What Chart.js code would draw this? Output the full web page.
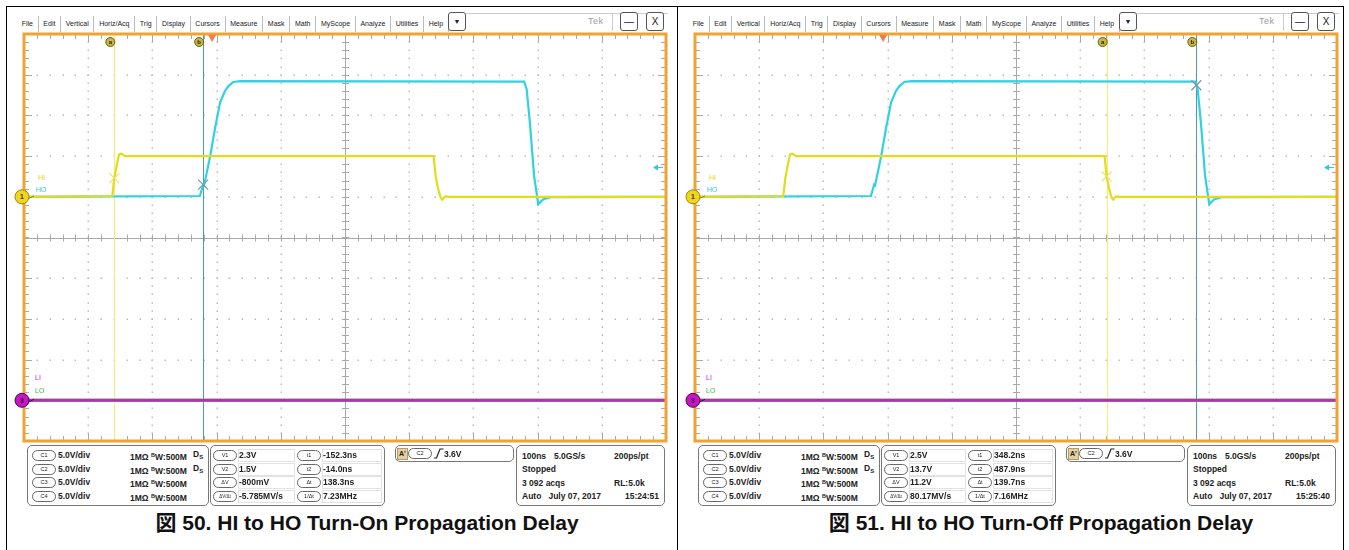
<!DOCTYPE html>
<html>
<head>
<meta charset="utf-8">
<script src="https://cdn.jsdelivr.net/npm/chart.js@4.4.1/dist/chart.umd.min.js"></script>
<style>
body { margin: 0; width: 1349px; height: 550px; background: #fff; position: relative; overflow: hidden;
       font-family: "Liberation Sans", Arial, "Noto Sans CJK JP", sans-serif; }
.frame { position: absolute; left: 6px; top: 6px; width: 1336px; height: 570px; border: 1px solid #000; }
.divider { position: absolute; left: 677px; top: 6px; width: 1px; height: 560px; background: #000; }
.panel { position: absolute; top: 0; width: 671px; height: 550px; }
.menu { position: absolute; left: 11px; top: 16px; height: 16px; display: flex; font-size: 7px; color: #222; }
.menu span { padding: 0 4.7px; border-right: 1px solid #bbb; line-height: 16px; white-space: nowrap; }
.btn { position: absolute; top: 12px; height: 17px; border: 1px solid #555; border-radius: 3px; background: #fff;
       font-size: 10px; text-align: center; line-height: 17px; color: #222; }
.topline { position: absolute; left: 460px; top: 13px; width: 202px; height: 1px; background: #ccc; }
.tek { position: absolute; left: 582px; top: 16px; font-size: 9px; color: #9a9a9a; letter-spacing: 0.5px; }
.vsep { position: absolute; left: 606px; top: 13px; width: 1px; height: 18px; background: #ccc; }
canvas { position: absolute; left: 4px; top: 28px; }
.box { position: absolute; border: 1px solid #777; border-radius: 5px; background: #fff; }
.t { position: absolute; font-size: 8.5px; font-weight: bold; color: #222; white-space: nowrap; line-height: 10px; }
.pill { position: absolute; width: 22px; height: 9px; border: 1px solid #666; border-radius: 6px; font-size: 5.5px;
        text-align: center; line-height: 9px; color: #222; background: #fff; }
.cell { position: absolute; height: 11px; border: 1px solid #e2e2e2; }
.caption { position: absolute; top: 511px; font-size: 21px; font-weight: bold; color: #111; white-space: nowrap;
           transform: translateX(-50%); line-height: 24px; }
.bw { font-size: 5.5px; vertical-align: 3px; }
.ds { font-size: 6px; vertical-align: -2px; }
</style>
</head>
<body>
<div class="frame"></div>
<div class="divider"></div>
<div id="panel0" class="panel" style="left:6px"></div>
<div id="panel1" class="panel" style="left:677px"></div>

<script>
// time axis: ns at the left / right screen edge, trigger point at 0
const timeAxis = [-293, 707];
const nsPerDiv = 100;
const voltsPerDiv = 5;

// HI (C1, yellow) input, volts
const hiTime  = [-293, -155.5, -152.3, -148.5, -145, -141, -136, 345, 348.2, 352, 355.5, 358.5, 363, 370, 707];
const hiVolts = [0, 0.1, 2.3, 3.9, 5.2, 5.3, 5.0, 5.0, 2.5, 1.0, 0.0, -0.35, 0.05, 0, 0];

// HO (C2, cyan) output, volts
const hoTime  = [-293, -19, -14, -12.5, -3, 5, 12.5, 20, 25.5, 33, 44, 486, 488, 490, 495, 501.5, 508, 516, 527, 707];
const hoVolts = [0, 0.1, 1.5, 1.4, 5.0, 8.6, 11.6, 13.0, 13.6, 14.1, 14.2, 14.15, 13.7, 13.2, 9.1, 2.6, -0.9, -0.3, -0.05, 0];

// LI (C3, magenta) and LO (C4, green) stay at ground
const liTime  = [-293, 707];
const liVolts = [0, 0];
const loTime  = [-293, 707];
const loVolts = [0, 0];

// channel ground offsets on screen, in divisions
const groundDiv = [1, 1, -4, -4];

// cursor readouts per figure
const cursorT1 = [-152.3, 348.2];
const cursorT2 = [-14.0, 487.9];
const cursorV1 = [2.3, 2.5];
const cursorV2 = [1.5, 13.7];
const readVolts = [['2.3V', '1.5V', '-800mV', '-5.785MV/s'], ['2.5V', '13.7V', '11.2V', '80.17MV/s']];
const readTimes = [['-152.3ns', '-14.0ns', '138.3ns', '7.23MHz'], ['348.2ns', '487.9ns', '139.7ns', '7.16MHz']];
const voltLabels = ['V1', 'V2', 'ΔV', 'ΔV/Δt'];
const timeLabels = ['t1', 't2', 'Δt', '1/Δt'];
const clockTimes = ['15:24:51', '15:25:40'];
const captions = ['図 50. HI to HO Turn-On Propagation Delay', '図 51. HI to HO Turn-Off Propagation Delay'];
const captionCenter = [361, 364];
const triggerLevel = 3.6;
const menuItems = ['File', 'Edit', 'Vertical', 'Horiz/Acq', 'Trig', 'Display', 'Cursors', 'Measure', 'Mask', 'Math',
                   'MyScope', 'Analyze', 'Utilities', 'Help'];
const channels = ['C1', 'C2', 'C3', 'C4'];

function toPoints(times, volts, ch) {
    return times.map((t, i) => ({ x: t, y: volts[i] / voltsPerDiv + groundDiv[ch] }));
}

function buildPanel(p) {
    const el = document.getElementById('panel' + p);
    let html = '<div class="menu">' + menuItems.map(m => `<span>${m}</span>`).join('') + '</div>';
    html += '<div class="topline"></div><div class="vsep"></div><div class="tek">Tek</div>';
    html += '<div class="btn" style="left:442px;width:16px;font-size:7px">&#9660;</div>';
    html += '<div class="btn" style="left:614px;width:16px;">&#8212;</div>';
    html += '<div class="btn" style="left:640px;width:16px;">X</div>';
    html += `<canvas id="scope${p}" width="660" height="419"></canvas>`;

    // channel box
    html += '<div class="box" style="left:21px;top:445px;width:180px;height:59px">';
    channels.forEach((c, i) => {
        const y = 4 + i * 13.7;
        html += `<div class="pill" style="left:4px;top:${y}px">${c}</div>`;
        html += `<div class="t" style="left:30px;top:${y}px">5.0V/div</div>`;
        html += `<div class="t" style="left:102px;top:${y}px">1MΩ <span class="bw">B</span>W:500M</div>`;
        if (i < 2) html += `<div class="t" style="left:165px;top:${y - 1}px">D<span class="ds">S</span></div>`;
    });
    html += '</div>';

    // cursor box
    html += '<div class="box" style="left:204px;top:445px;width:173px;height:59px">';
    for (let i = 0; i < 4; i++) {
        const y = 3 + i * 13.7;
        html += `<div class="cell" style="left:27px;top:${y}px;width:55px"></div>`;
        html += `<div class="cell" style="left:111px;top:${y}px;width:58px"></div>`;
        html += `<div class="pill" style="left:2px;top:${y + 1}px;${i === 3 ? 'font-size:4.5px' : ''}">${voltLabels[i]}</div>`;
        html += `<div class="t" style="left:28px;top:${y + 1}px">${readVolts[p][i]}</div>`;
        html += `<div class="pill" style="left:86px;top:${y + 1}px">${timeLabels[i]}</div>`;
        html += `<div class="t" style="left:112px;top:${y + 1}px">${readTimes[p][i]}</div>`;
    }
    html += '</div>';

    // trigger box
    html += '<div class="box" style="left:389px;top:445px;width:117px;height:15px">';
    html += '<div class="t" style="left:1px;top:2px;background:#e3cfa6;padding:0 1px;font-size:7px;border:1px solid #b89a60">A\'</div>';
    html += '<div class="pill" style="left:12px;top:2px">C2</div>';
    html += '<svg style="position:absolute;left:38px;top:2px" width="10" height="11"><polyline points="0,10 2.5,10 6,1 9.5,1" fill="none" stroke="#222" stroke-width="1.2"/></svg>';
    html += '<div class="t" style="left:48px;top:3px">3.6V</div>';
    html += '</div>';

    // acquisition box
    html += '<div class="box" style="left:510px;top:445px;width:147px;height:59px">';
    html += '<div class="t" style="left:5px;top:5px">100ns</div>';
    html += '<div class="t" style="left:37px;top:5px">5.0GS/s</div>';
    html += '<div class="t" style="left:97px;top:5px">200ps/pt</div>';
    html += '<div class="t" style="left:5px;top:18px">Stopped</div>';
    html += '<div class="t" style="left:5px;top:32px">3 092 acqs</div>';
    html += '<div class="t" style="left:97px;top:32px">RL:5.0k</div>';
    html += '<div class="t" style="left:5px;top:45px">Auto&nbsp;&nbsp; July 07, 2017</div>';
    html += `<div class="t" style="right:5px;top:45px">${clockTimes[p]}</div>`;
    html += '</div>';

    html += `<div class="caption" style="left:${captionCenter[p]}px">${captions[p]}</div>`;
    el.innerHTML = html;
}

// grid, cursors and scope markers drawn through the chart scales
const scopePlugin = {
    id: 'scope',
    beforeDatasetsDraw(chart, args, opts) {
        const ctx = chart.ctx;
        const { left, right, top, bottom } = chart.chartArea;
        const xs = chart.scales.x, ys = chart.scales.y;
        const xMajor = xs.ticks.map(t => xs.getPixelForValue(t.value));
        const yMajor = ys.ticks.map(t => ys.getPixelForValue(t.value));
        const dx = (xMajor[1] - xMajor[0]) / 5, dy = (yMajor[0] - yMajor[1]) / 5;
        const xc = xs.getPixelForValue((timeAxis[0] + timeAxis[1]) / 2);
        const yc = ys.getPixelForValue(0);
        ctx.save();
        // dotted division lines
        ctx.fillStyle = '#bcbcbc';
        xMajor.forEach(x => {
            if (Math.abs(x - xc) < 2 || x < left + 2 || x > right - 2) return;
            for (let y = top + dy; y < bottom - 1; y += dy) ctx.fillRect(Math.round(x) - 0.5, Math.round(y) - 0.5, 1.5, 1.5);
        });
        yMajor.forEach(y => {
            if (Math.abs(y - yc) < 2 || y < top + 2 || y > bottom - 2) return;
            for (let x = left + dx; x < right - 1; x += dx) ctx.fillRect(Math.round(x) - 0.5, Math.round(y) - 0.5, 1.5, 1.5);
        });
        // center cross with ticks
        ctx.strokeStyle = '#a9a9a9';
        ctx.lineWidth = 1;
        ctx.beginPath();
        ctx.moveTo(left, Math.round(yc) + 0.5); ctx.lineTo(right, Math.round(yc) + 0.5);
        ctx.moveTo(Math.round(xc) + 0.5, top); ctx.lineTo(Math.round(xc) + 0.5, bottom);
        for (let x = left + dx; x < right - 1; x += dx) {
            const xx = Math.round(x) + 0.5;
            ctx.moveTo(xx, yc - 3); ctx.lineTo(xx, yc + 4);
            ctx.moveTo(xx, top); ctx.lineTo(xx, top + 5);
            ctx.moveTo(xx, bottom); ctx.lineTo(xx, bottom - 5);
        }
        for (let y = top + dy; y < bottom - 1; y += dy) {
            const yy = Math.round(y) + 0.5;
            ctx.moveTo(xc - 3, yy); ctx.lineTo(xc + 4, yy);
            ctx.moveTo(left, yy); ctx.lineTo(left + 5, yy);
            ctx.moveTo(right, yy); ctx.lineTo(right - 5, yy);
        }
        xMajor.forEach(x => {
            const xx = Math.round(x) + 0.5;
            ctx.moveTo(xx, top); ctx.lineTo(xx, top + 8);
            ctx.moveTo(xx, bottom); ctx.lineTo(xx, bottom - 8);
        });
        yMajor.forEach(y => {
            const yy = Math.round(y) + 0.5;
            ctx.moveTo(left, yy); ctx.lineTo(left + 8, yy);
            ctx.moveTo(right, yy); ctx.lineTo(right - 8, yy);
        });
        ctx.stroke();
        // cursor lines
        const p = opts.panel;
        const x1 = Math.round(xs.getPixelForValue(cursorT1[p])) + 0.5;
        const x2 = Math.round(xs.getPixelForValue(cursorT2[p])) + 0.5;
        ctx.strokeStyle = '#f4ee6a';
        ctx.beginPath(); ctx.moveTo(x1, top); ctx.lineTo(x1, bottom); ctx.stroke();
        ctx.strokeStyle = '#4a9cb2';
        ctx.beginPath(); ctx.moveTo(x2, top); ctx.lineTo(x2, bottom); ctx.stroke();
        ctx.restore();
    },
    afterDatasetsDraw(chart, args, opts) {
        const ctx = chart.ctx;
        const xs = chart.scales.x, ys = chart.scales.y;
        const p = opts.panel;
        const cross = (x, y, r, color) => {
            ctx.strokeStyle = color; ctx.lineWidth = 1.2;
            ctx.beginPath();
            ctx.moveTo(x - r, y - r); ctx.lineTo(x + r, y + r);
            ctx.moveTo(x - r, y + r); ctx.lineTo(x + r, y - r);
            ctx.stroke();
        };
        ctx.save();
        cross(xs.getPixelForValue(cursorT1[p]), ys.getPixelForValue(cursorV1[p] / voltsPerDiv + groundDiv[0]), 5, '#efe25a');
        cross(xs.getPixelForValue(cursorT2[p]), ys.getPixelForValue(cursorV2[p] / voltsPerDiv + groundDiv[1]), 5, '#7f97a0');
        ctx.restore();
    },
    afterDraw(chart, args, opts) {
        const ctx = chart.ctx;
        const { left, right, top, bottom } = chart.chartArea;
        const xs = chart.scales.x, ys = chart.scales.y;
        const p = opts.panel;
        ctx.save();
        // orange graticule frame
        ctx.strokeStyle = '#f0a232';
        ctx.lineWidth = 3;
        ctx.strokeRect(left, top, right - left, bottom - top);

        // channel labels
        ctx.font = '7px "Liberation Sans", Arial';
        ctx.textBaseline = 'middle';
        const g1 = ys.getPixelForValue(groundDiv[0]);
        const g3 = ys.getPixelForValue(groundDiv[2]);
        ctx.fillStyle = '#e2d21a'; ctx.fillText('HI', left + 14, g1 - 19);
        ctx.fillStyle = '#33c6dc'; ctx.fillText('HO', left + 12, g1 - 7);
        ctx.fillStyle = '#c02ac0'; ctx.fillText('LI', left + 11, g3 - 22);
        ctx.fillStyle = '#3cc040'; ctx.fillText('LO', left + 11, g3 - 9);

        // ground markers
        const marker = (y, fill, stroke, label, txt) => {
            ctx.beginPath(); ctx.arc(left - 2, y, 7, 0, Math.PI * 2);
            ctx.fillStyle = fill; ctx.fill();
            ctx.lineWidth = 1; ctx.strokeStyle = stroke; ctx.stroke();
            ctx.beginPath(); ctx.moveTo(left + 4, y + 2); ctx.lineTo(left + 10, y - 1); ctx.stroke();
            ctx.fillStyle = txt; ctx.font = 'bold 7px "Liberation Sans", Arial'; ctx.textAlign = 'center';
            ctx.fillText(label, left - 2, y + 0.5);
        };
        marker(g1, '#f3d41e', '#9c8410', '1', '#333');
        marker(g3, '#c614c6', '#4a0a4a', '3', '#300030');

        // cursor tags a / b
        const tag = (x, label) => {
            ctx.beginPath(); ctx.arc(x, top + 8, 4.5, 0, Math.PI * 2);
            ctx.fillStyle = '#c9b444'; ctx.fill();
            ctx.lineWidth = 1; ctx.strokeStyle = '#6b5e18'; ctx.stroke();
            ctx.fillStyle = '#222'; ctx.font = 'bold 6px "Liberation Sans", Arial'; ctx.textAlign = 'center';
            ctx.fillText(label, x, top + 8.5);
        };
        tag(xs.getPixelForValue(cursorT1[p]) - 4, 'a');
        tag(xs.getPixelForValue(cursorT2[p]) - 4, 'b');

        // trigger position
        const xt = xs.getPixelForValue(0);
        ctx.beginPath();
        ctx.moveTo(xt - 4, top + 1); ctx.lineTo(xt + 4, top + 1); ctx.lineTo(xt, top + 8); ctx.closePath();
        ctx.fillStyle = '#f27c50'; ctx.fill();

        // trigger level on C2
        const yl = ys.getPixelForValue(triggerLevel / voltsPerDiv + groundDiv[1]);
        ctx.strokeStyle = '#33c6dc'; ctx.fillStyle = '#33c6dc'; ctx.lineWidth = 1;
        ctx.beginPath(); ctx.moveTo(right - 10, yl); ctx.lineTo(right - 3, yl); ctx.stroke();
        ctx.beginPath(); ctx.moveTo(right - 13, yl); ctx.lineTo(right - 8, yl - 3); ctx.lineTo(right - 8, yl + 3); ctx.closePath(); ctx.fill();
        ctx.restore();
    }
};

function makeScope(p) {
    const divTicks = [];
    for (let k = 0; k <= 10; k++) divTicks.push(timeAxis[0] + k * nsPerDiv);
    // first dataset is drawn on top
    return new Chart(document.getElementById('scope' + p), {
        type: 'line',
        data: {
            datasets: [
                { label: 'HI', data: toPoints(hiTime, hiVolts, 0), borderColor: '#e2dc1c', borderWidth: 2.2 },
                { label: 'HO', data: toPoints(hoTime, hoVolts, 1), borderColor: '#2fd2e2', borderWidth: 2.2 },
                { label: 'LI', data: toPoints(liTime, liVolts, 2), borderColor: '#d21ad2', borderWidth: 2.5 },
                { label: 'LO', data: toPoints(loTime, loVolts, 3), borderColor: '#3cc040', borderWidth: 3.5 }
            ]
        },
        options: {
            responsive: false,
            animation: false,
            events: [],
            parsing: false,
            layout: { padding: { left: 14, right: 4, top: 6, bottom: 6 } },
            elements: { point: { radius: 0 }, line: { tension: 0 } },
            scales: {
                x: {
                    type: 'linear', display: false, min: timeAxis[0], max: timeAxis[1],
                    afterBuildTicks: s => { s.ticks = divTicks.map(v => ({ value: v })); }
                },
                y: {
                    type: 'linear', display: false, min: -5, max: 5,
                    afterBuildTicks: s => { s.ticks = [-5, -4, -3, -2, -1, 0, 1, 2, 3, 4, 5].map(v => ({ value: v })); }
                }
            },
            plugins: { legend: { display: false }, tooltip: { enabled: false }, scope: { panel: p } }
        },
        plugins: [scopePlugin]
    });
}

buildPanel(0);
buildPanel(1);
makeScope(0);
makeScope(1);
</script>
</body>
</html>
